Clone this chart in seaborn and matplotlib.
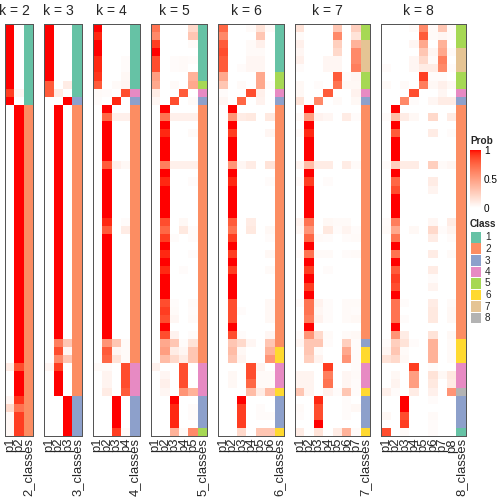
import numpy as np
import pandas as pd
import matplotlib
matplotlib.use("Agg")
import matplotlib.pyplot as plt
from matplotlib.colors import ListedColormap, Normalize
from matplotlib.cm import ScalarMappable
from matplotlib.patches import Rectangle
import seaborn as sns

# ---- membership probabilities, one row per sample, one column per class ----
ks = [2, 3, 4, 5, 6, 7, 8]

prob_k2 = ([[1, 0]] * 8 + [[0.9, 0.05], [1, 0]] + [[0, 1]] * 32
           + [[0.1, 0.85]] + [[0, 1]] * 3
           + [[0.05, 0.92], [0.2, 0.7]] + [[0.04, 0.9]] * 3)
class_k2 = [1] * 10 + [2] * 41

prob_k3 = ([[1, 0, 0]] * 7 + [[0.8, 0, 0.1], [0.8, 0.1, 0], [0, 0, 1]]
           + [[0, 1, 0]] * 29
           + [[0, 0.65, 0.3], [0, 0.85, 0.05], [0, 0.6, 0.3], [0.05, 0.9, 0]]
           + [[0, 1, 0]] * 3 + [[0, 0, 1]] * 5)
class_k3 = [1] * 9 + [3] + [2] * 36 + [3] * 5

prob_k4 = ([[1, 0, 0, 0], [0.95, 0, 0, 0], [1, 0, 0, 0], [1, 0, 0, 0],
            [0.95, 0, 0, 0.02], [0.95, 0, 0, 0.02], [0.92, 0, 0, 0.04],
            [0.8, 0, 0.03, 0.05], [0.03, 0.02, 0, 0.85], [0.02, 0, 0.95, 0],
            [0, 1, 0, 0], [0, 0.75, 0.08, 0.08]]
           + [[0, 1, 0, 0]] * 5 + [[0, 0.8, 0.08, 0.04]]
           + [[0, 1, 0, 0]] * 6 + [[0, 0.95, 0, 0.02], [0, 0.8, 0, 0.1]]
           + [[0, 1, 0, 0]] * 13
           + [[0, 0.55, 0.3, 0.03], [0, 0.8, 0.05, 0.03], [0, 0.75, 0.15, 0.03],
              [0.03, 0.03, 0, 0.85], [0, 0.06, 0, 0.85], [0, 0.06, 0, 0.85],
              [0, 0.1, 0, 0.8]]
           + [[0, 0, 1, 0]] * 4 + [[0, 0, 0.9, 0.03]])
class_k4 = [1] * 8 + [4, 3] + [2] * 32 + [4] * 4 + [3] * 5

prob_k5 = ([[0.7, 0, 0, 0, 0.2], [0.6, 0, 0, 0, 0.3], [0.9, 0, 0, 0, 0.03],
            [1, 0, 0, 0, 0], [0.85, 0, 0.02, 0.03, 0.02], [0.85, 0, 0.02, 0.03, 0],
            [0.5, 0, 0, 0, 0.4], [0.45, 0, 0.03, 0, 0.45], [0.1, 0, 0, 0.8, 0],
            [0.05, 0, 0.85, 0, 0.03], [0, 1, 0, 0, 0], [0, 0.7, 0.08, 0.08, 0.08],
            [0, 1, 0, 0, 0], [0, 0.95, 0, 0, 0.03]]
           + [[0, 1, 0, 0, 0]] * 3
           + [[0, 0.65, 0.08, 0.08, 0.08], [0, 1, 0, 0, 0], [0, 0.95, 0, 0, 0.02]]
           + [[0, 1, 0, 0, 0]] * 4
           + [[0, 0.85, 0, 0.04, 0], [0, 0.75, 0, 0.12, 0.02], [0, 0.9, 0.02, 0, 0.02],
              [0, 1, 0, 0, 0], [0, 0.95, 0, 0, 0.02], [0, 1, 0, 0, 0],
              [0, 0.95, 0, 0.02, 0]]
           + [[0, 1, 0, 0, 0]] * 3
           + [[0, 0.85, 0.02, 0, 0.03], [0, 0.9, 0.03, 0, 0.02], [0, 0.85, 0.05, 0, 0.03],
              [0, 1, 0, 0, 0], [0, 0.85, 0.07, 0, 0.02], [0, 0.45, 0.3, 0.02, 0.15],
              [0, 0.5, 0.1, 0.05, 0.3], [0, 0.35, 0.2, 0.1, 0.3], [0.07, 0, 0, 0.85, 0],
              [0, 0.05, 0, 0.85, 0], [0, 0.08, 0, 0.85, 0], [0, 0.05, 0, 0.55, 0.4],
              [0, 0, 1, 0, 0], [0, 0, 0.95, 0, 0.02], [0, 0, 0.95, 0, 0.02],
              [0, 0, 0.95, 0, 0], [0, 0, 0.4, 0.03, 0.6]])
class_k5 = [1] * 7 + [5, 4, 3] + [2] * 32 + [4] * 4 + [3] * 4 + [5]

one6 = [0, 1, 0, 0, 0, 0]
prob_k6 = ([[0.75, 0, 0, 0.03, 0.15, 0.03], [0.6, 0, 0, 0, 0.3, 0],
            [0.8, 0, 0, 0.03, 0.08, 0], [0.85, 0, 0, 0.03, 0.03, 0],
            [0.8, 0, 0, 0.05, 0.05, 0], [0.8, 0, 0.02, 0.05, 0.05, 0],
            [0.45, 0, 0, 0, 0.45, 0], [0.3, 0, 0.03, 0, 0.45, 0.02],
            [0.02, 0, 0, 0.85, 0.08, 0], [0.05, 0, 0.75, 0, 0.07, 0],
            one6, [0, 0.55, 0.1, 0.12, 0, 0.12], one6, [0, 0.9, 0, 0, 0, 0.05]]
           + [one6] * 3
           + [[0, 0.55, 0.05, 0.1, 0, 0.15], one6, [0, 0.95, 0, 0, 0, 0.02]]
           + [one6] * 4
           + [[0, 0.8, 0, 0.1, 0, 0], [0, 0.7, 0, 0.12, 0, 0.04], [0, 0.9, 0, 0, 0, 0.02],
              one6, [0, 0.9, 0, 0, 0, 0.04], one6, [0, 0.9, 0, 0, 0, 0.03]]
           + [one6] * 3
           + [[0, 0.85, 0, 0, 0, 0.04], [0, 0.85, 0.02, 0, 0, 0.04], [0, 0.85, 0, 0, 0, 0.04],
              one6, [0, 0.85, 0.02, 0, 0, 0.05], [0, 0.3, 0.2, 0.05, 0, 0.3],
              [0, 0.35, 0.04, 0, 0, 0.4], [0, 0.3, 0.06, 0, 0, 0.55],
              [0, 0, 0, 0.85, 0.06, 0], [0, 0.04, 0, 0.85, 0.03, 0.03],
              [0, 0.04, 0, 0.75, 0.03, 0.03], [0, 0, 0, 0.35, 0.1, 0.35],
              [0, 0, 1, 0, 0, 0], [0, 0, 0.9, 0, 0.02, 0], [0, 0, 0.9, 0, 0.02, 0.02],
              [0, 0, 0.9, 0, 0, 0], [0, 0, 0.2, 0, 0.3, 0.3]])
class_k6 = [1] * 6 + [5, 5, 4, 3] + [2] * 30 + [6, 6] + [4] * 3 + [6] + [3] * 4 + [6]

one7 = [0, 1, 0, 0, 0, 0, 0]
prob_k7 = ([[0.15, 0, 0, 0, 0.3, 0, 0.25], [0.03, 0, 0, 0, 0.6, 0, 0.15],
            [0.08, 0, 0, 0, 0.25, 0, 0.4], [0.05, 0, 0, 0, 0.2, 0, 0.6],
            [0.08, 0, 0, 0.05, 0.05, 0, 0.6], [0.02, 0, 0, 0.05, 0.05, 0, 0.65],
            [0, 0, 0, 0, 0.8, 0.02, 0.05], [0.04, 0, 0.02, 0, 0.7, 0.04, 0.04],
            [0.04, 0, 0, 0.8, 0, 0, 0.07], [0.15, 0, 0.6, 0, 0.03, 0, 0.04],
            one7, [0.03, 0.5, 0.07, 0.05, 0, 0.1, 0.02], one7,
            [0.02, 0.95, 0, 0, 0, 0, 0]]
           + [one7] * 3
           + [[0.06, 0.35, 0.1, 0.1, 0, 0.1, 0.03], one7, [0.02, 0.9, 0, 0.02, 0, 0, 0]]
           + [one7] * 4
           + [[0.06, 0.7, 0, 0.04, 0.03, 0.03, 0], [0.04, 0.55, 0, 0.12, 0.02, 0.06, 0.02],
              [0, 0.75, 0.03, 0.02, 0, 0.02, 0.03], one7,
              [0.02, 0.7, 0.03, 0.03, 0, 0.02, 0.03], one7,
              [0, 0.9, 0, 0.02, 0, 0, 0], one7, [0, 0.9, 0, 0, 0, 0, 0], one7,
              [0.02, 0.7, 0.07, 0.02, 0, 0.03, 0.03], [0, 0.7, 0.05, 0.02, 0, 0.03, 0.02],
              [0, 0.65, 0.07, 0.02, 0, 0.03, 0.04], one7,
              [0.02, 0.55, 0.2, 0.03, 0, 0.03, 0.04], [0.05, 0.3, 0.3, 0.02, 0, 0.25, 0.02],
              [0, 0.3, 0.03, 0, 0, 0.45, 0.02], [0, 0.25, 0.07, 0, 0, 0.55, 0.02],
              [0, 0, 0, 0.9, 0, 0, 0.02], [0.06, 0.06, 0, 0.65, 0, 0.05, 0.03],
              [0.06, 0.06, 0, 0.7, 0, 0.05, 0.02], [0.3, 0.06, 0, 0.07, 0.02, 0.3, 0.02],
              [0, 0, 0.95, 0, 0, 0.02, 0], [0.03, 0, 0.85, 0, 0, 0.02, 0.04],
              [0.02, 0, 0.85, 0, 0, 0.02, 0], [0, 0, 1, 0, 0, 0, 0],
              [0.1, 0, 0.15, 0, 0.1, 0.4, 0.03]])
class_k7 = [5, 5, 7, 7, 7, 7, 5, 5, 4, 3] + [2] * 29 + [3] + [6, 6] + [4] * 3 + [6] + [3] * 4 + [6]

one8 = [0, 1, 0, 0, 0, 0, 0, 0]
prob_k8 = ([[0, 0, 0, 0.03, 0.6, 0.03, 0.3, 0.03], [0, 0, 0, 0, 0.8, 0.03, 0.05, 0.03],
            [0, 0, 0, 0.05, 0.45, 0, 0.4, 0], [0, 0, 0, 0, 0.3, 0.05, 0.45, 0.03],
            [0, 0, 0, 0.05, 0.2, 0.02, 0.65, 0], [0.02, 0, 0, 0.05, 0.1, 0.1, 0.6, 0.02],
            [0, 0, 0, 0, 0.9, 0.02, 0.02, 0], [0.03, 0, 0.03, 0, 0.65, 0.04, 0.08, 0.04],
            [0, 0, 0, 0.85, 0, 0, 0.05, 0], [0, 0, 0.6, 0.02, 0, 0.05, 0.1, 0.1],
            one8, [0.02, 0.35, 0.1, 0.04, 0, 0.2, 0, 0.1], one8,
            [0, 0.8, 0, 0, 0, 0.1, 0, 0.02]]
           + [one8] * 3
           + [[0.02, 0.25, 0.1, 0.1, 0, 0.25, 0.03, 0.05], one8,
              [0, 0.75, 0, 0, 0, 0.1, 0, 0], [0, 0.85, 0, 0, 0, 0.06, 0, 0]]
           + [one8] * 3
           + [[0.02, 0.65, 0, 0, 0, 0.05, 0, 0.1], [0.03, 0.45, 0, 0.04, 0, 0.2, 0.02, 0.06],
              [0, 0.7, 0, 0, 0, 0.1, 0, 0.02], one8, [0, 0.7, 0, 0, 0, 0.1, 0, 0.03], one8,
              [0, 0.8, 0, 0, 0, 0.1, 0, 0], [0, 0.9, 0, 0, 0, 0.02, 0, 0],
              [0, 0.85, 0, 0, 0, 0.06, 0, 0], one8,
              [0, 0.7, 0.02, 0, 0, 0.1, 0, 0.03], [0, 0.7, 0, 0, 0, 0.12, 0, 0.04],
              [0, 0.7, 0.02, 0, 0, 0.12, 0, 0.04], one8,
              [0, 0.55, 0.1, 0, 0, 0.15, 0, 0.04], [0.02, 0.25, 0.15, 0.02, 0, 0.4, 0, 0.03],
              [0.05, 0.3, 0.03, 0, 0, 0.4, 0, 0.03], [0.15, 0.2, 0.04, 0, 0, 0.4, 0, 0.03],
              [0, 0, 0, 0.9, 0, 0.02, 0, 0], [0, 0.04, 0, 0.5, 0, 0.15, 0.04, 0.12],
              [0, 0.06, 0, 0.5, 0, 0.12, 0, 0.1], [0.08, 0.02, 0, 0.1, 0, 0.08, 0, 0.55],
              [0, 0, 1, 0, 0, 0.02, 0, 0], [0, 0, 1, 0, 0, 0, 0, 0],
              [0.04, 0, 0.85, 0, 0, 0.03, 0, 0], [0, 0, 0.9, 0, 0, 0.02, 0, 0],
              [0.85, 0, 0.03, 0, 0, 0.02, 0, 0]])
class_k8 = [5, 5, 5, 7, 7, 7, 5, 5, 4, 3] + [2] * 29 + [6, 6, 6] + [4] * 3 + [8] + [3] * 4 + [1]

probs = {2: prob_k2, 3: prob_k3, 4: prob_k4, 5: prob_k5, 6: prob_k6, 7: prob_k7, 8: prob_k8}
classes = {2: class_k2, 3: class_k3, 4: class_k4, 5: class_k5, 6: class_k6, 7: class_k7, 8: class_k8}

class_labels = ["1", "2", "3", "4", "5", "6", "7", "8"]
class_colors = ["#66C2A5", "#FC8D62", "#8DA0CB", "#E78AC3",
                "#A6D854", "#FFD92F", "#E5C494", "#B3B3B3"]


def lab_ramp(n=256):
    # white -> red interpolated in Lab space
    t = np.linspace(0, 1, n)[:, None]
    lab = (1 - t) * np.array([100.0, 0, 0]) + t * np.array([53.24, 80.09, 67.20])
    L, a, b = lab[:, 0], lab[:, 1], lab[:, 2]
    fy = (L + 16) / 116
    fx = fy + a / 500
    fz = fy - b / 200

    def finv(f):
        return np.where(f > 6 / 29, f ** 3, 3 * (6 / 29) ** 2 * (f - 4 / 29))

    xyz = np.stack([0.95047 * finv(fx), finv(fy), 1.08883 * finv(fz)], axis=1)
    M = np.array([[3.2406, -1.5372, -0.4986],
                  [-0.9689, 1.8758, 0.0415],
                  [0.0557, -0.2040, 1.0570]])
    rgb = np.clip(xyz @ M.T, 0, None)
    rgb = np.where(rgb <= 0.0031308, 12.92 * rgb, 1.055 * rgb ** (1 / 2.4) - 0.055)
    return ListedColormap(np.clip(rgb, 0, 1))


prob_cmap = lab_ramp()
class_cmap = ListedColormap(class_colors)

sns.set_style("white")
plt.rcParams["font.family"] = ["Liberation Sans", "DejaVu Sans"]

W, H = 504, 504
fig = plt.figure(figsize=(W / 72, H / 72), dpi=72)

cw, gap = 9.4, 11.0
top, bot = 24, 436
x0 = 5.0
for k in ks:
    p = np.array(probs[k], dtype=float)
    c = np.array(classes[k], dtype=float)
    n = len(c)
    cols = [f"p{j}" for j in range(1, k + 1)] + [f"{k}_classes"]
    df_p = pd.DataFrame(np.column_stack([p, np.full(n, np.nan)]), columns=cols)
    df_c = pd.DataFrame(np.column_stack([np.full((n, k), np.nan), c]), columns=cols)

    ax = fig.add_axes([x0 / W, (H - bot) / H, (k + 1) * cw / W, (bot - top) / H])
    sns.heatmap(df_p, ax=ax, cmap=prob_cmap, vmin=0, vmax=1, cbar=False,
                xticklabels=True, yticklabels=False)
    sns.heatmap(df_c, ax=ax, cmap=class_cmap, vmin=0.5, vmax=8.5, cbar=False,
                xticklabels=True, yticklabels=False)
    ax.set_xticks(np.arange(k + 1) + 0.5)
    ax.set_xticklabels(cols, rotation=90, fontsize=13, va="top", ha="center")
    ax.tick_params(axis="x", length=0, pad=2)
    for s in ax.spines.values():
        s.set_visible(True)
        s.set_color("#555555")
        s.set_linewidth(1)
    # title centred over the probability columns
    fig.text((x0 + k * cw / 2) / W, (H - 15) / H, f"k = {k}",
             ha="center", va="baseline", fontsize=14)
    x0 += (k + 1) * cw + gap

# ---- legends ----
fig.text(470 / W, (H - 141) / H, "Prob", fontsize=10, fontweight="bold",
         ha="left", va="center")
cax = fig.add_axes([470 / W, (H - 208) / H, 11 / W, 58 / H])
cb = fig.colorbar(ScalarMappable(norm=Normalize(0, 1), cmap=prob_cmap),
                  cax=cax, ticks=[0, 0.5, 1])
cb.outline.set_visible(False)
cb.ax.set_yticklabels(["0", "0.5", "1"])
cax.tick_params(length=2, direction="in", colors="white", labelsize=10, pad=3)
for lab in cax.get_yticklabels():
    lab.set_color("black")

fig.text(470 / W, (H - 224) / H, "Class", fontsize=10, fontweight="bold",
         ha="left", va="center")
for i, (lab, col) in enumerate(zip(class_labels, class_colors)):
    yc = 237.5 + i * 11.5
    fig.add_artist(Rectangle((471 / W, (H - yc - 5) / H), 10 / W, 10.5 / H,
                             transform=fig.transFigure, facecolor=col, edgecolor="none"))
    fig.text(485 / W, (H - yc) / H, lab, fontsize=10, ha="left", va="center")

fig.savefig("out.png", dpi=72)
